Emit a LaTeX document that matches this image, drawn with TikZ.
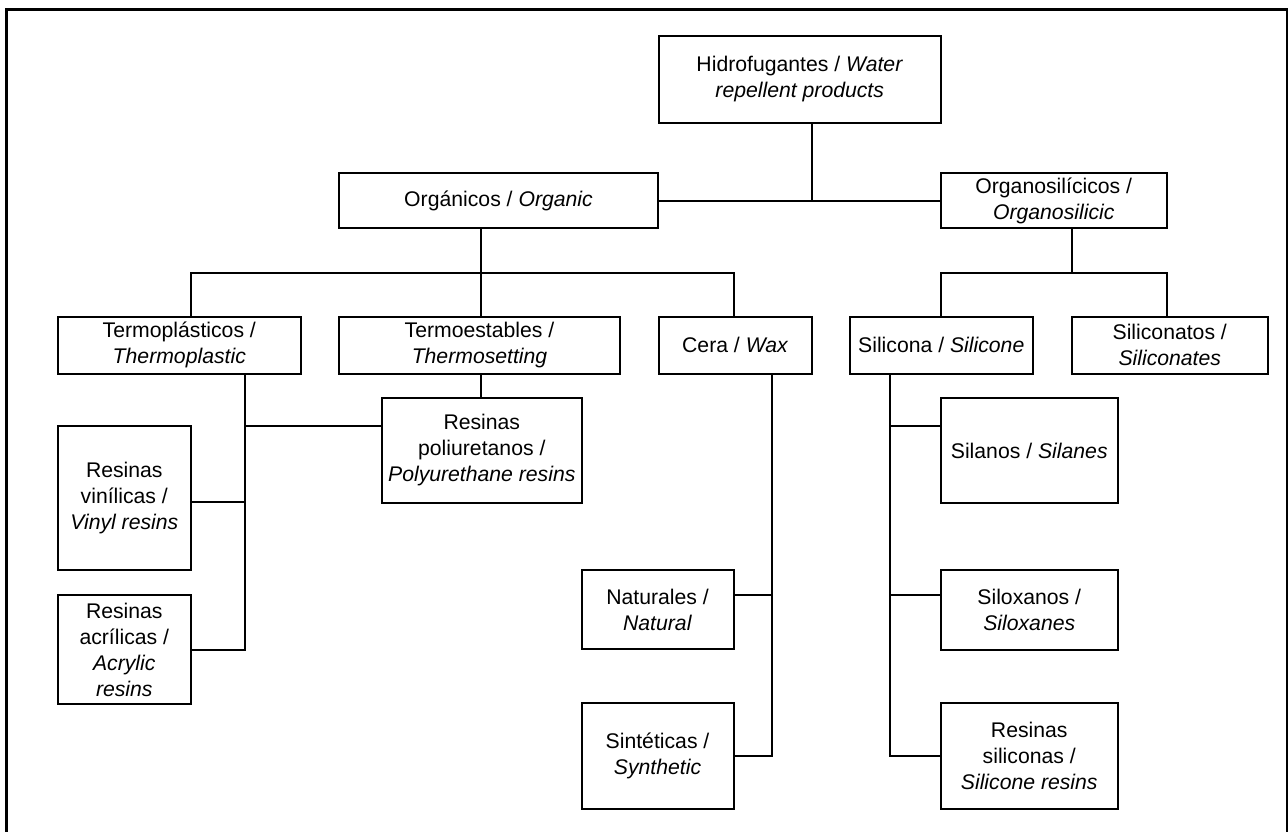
\documentclass[tikz,border=0pt]{standalone}
\usepackage{fontspec}
\setmainfont{Liberation Sans}
\begin{document}
\begin{tikzpicture}[x=1pt,y=-1pt,
  box/.style={draw=black,line width=2pt,inner sep=0pt,outer sep=0pt,align=center,
    font=\fontsize{21.2}{26}\selectfont},
  conn/.style={draw=black,line width=2pt}]
\useasboundingbox (0,0) rectangle (1288,831);
\begin{scope}
\clip (0,0) rectangle (1288,831);
\draw[line width=2.6pt] (6.5,9.5) rectangle (1287.5,860);
\end{scope}
% nodes
\node[box,minimum width=281.5pt,minimum height=87pt] (hid) at (799.75,79.5) {Hidrofugantes / \textit{Water}\\\textit{repellent products}};
\node[box,minimum width=319pt,minimum height=55pt] (org) at (498.5,200.5) {Orgánicos / \textit{Organic}};
\node[box,minimum width=226.5pt,minimum height=55pt] (osil) at (1053.75,200.5) {Organosilícicos /\\\textit{Organosilicic}};
\node[box,minimum width=242.6pt,minimum height=57.3pt] (tpl) at (179.3,345.35) {Termoplásticos /\\\textit{Thermoplastic}};
\node[box,minimum width=281pt,minimum height=57.3pt] (tes) at (479.5,345.35) {Termoestables /\\\textit{Thermosetting}};
\node[box,minimum width=152.6pt,minimum height=57.3pt] (cera) at (735.3,345.35) {Cera / \textit{Wax}};
\node[box,minimum width=182.5pt,minimum height=57.3pt] (silc) at (941.25,345.35) {Silicona / \textit{Silicone}};
\node[box,minimum width=195.5pt,minimum height=57.3pt] (silnt) at (1169.75,345.35) {Siliconatos /\\\textit{Siliconates}};
\node[box,minimum width=199.6pt,minimum height=104.4pt] (pu) at (481.8,450.5) {Resinas\\poliuretanos /\\\textit{Polyurethane resins}};
\node[box,minimum width=132.6pt,minimum height=144.3pt] (vin) at (124.3,497.85) {Resinas\\vinílicas /\\\textit{Vinyl resins}};
\node[box,minimum width=132.6pt,minimum height=109.3pt] (acr) at (124.3,649.65) {Resinas\\acrílicas /\\\textit{Acrylic}\\\textit{resins}};
\node[box,minimum width=151.9pt,minimum height=79.3pt] (nat) at (657.55,609.65) {Naturales /\\\textit{Natural}};
\node[box,minimum width=151.9pt,minimum height=105.7pt] (sin) at (657.55,756.15) {Sintéticas /\\\textit{Synthetic}};
\node[box,minimum width=177.5pt,minimum height=104.4pt] (sla) at (1029.25,450.5) {Silanos / \textit{Silanes}};
\node[box,minimum width=177.5pt,minimum height=80pt] (slx) at (1029.25,610) {Siloxanos /\\\textit{Siloxanes}};
\node[box,minimum width=177.5pt,minimum height=105.7pt] (rsi) at (1029.25,756.15) {Resinas\\siliconas /\\\textit{Silicone resins}};
% junction coordinates
\coordinate (hx) at (811.6,200.5);
\coordinate (ob) at (481,272.7);
\coordinate (b1) at (190.6,272.7);
\coordinate (b3) at (733.5,272.7);
\coordinate (sb) at (1072,272.7);
\coordinate (s1) at (940.5,272.7);
\coordinate (s2) at (1167,272.7);
\coordinate (tv) at (244.8,374);
\coordinate (cv) at (772,374);
\coordinate (sv) at (889.6,374);
% connectors
\draw[conn] (org) -- (osil);
\draw[conn] (hid.south -| hx) -- (hx);
\draw[conn] (org.south -| ob) -- (ob);
\draw[conn] (b1 |- tpl.north) -- (b1) -- (b3) -- (b3 |- cera.north);
\draw[conn] (ob) -- (ob |- tes.north);
\draw[conn] (osil.south -| sb) -- (sb);
\draw[conn] (s1 |- silc.north) -- (s1) -- (s2) -- (s2 |- silnt.north);
\draw[conn] (tv) -- (tv |- acr.east) -- (acr.east);
\draw[conn] (tv |- pu.north west) ++(0,27.4) coordinate (tp) -- (pu.west |- tp);
\draw[conn] (vin.east |- 0,502) -- (tv |- 0,502);
\draw[conn] (tes.south -| ob) -- (ob |- pu.north);
\draw[conn] (cv) -- (cv |- sin.east) -- (sin.east);
\draw[conn] (nat.east |- 0,595) -- (cv |- 0,595);
\draw[conn] (sv) -- (sv |- rsi.west) -- (rsi.west);
\draw[conn] (sv |- sla.north) ++(0,27.4) coordinate (sp) -- (sla.west |- sp);
\draw[conn] (sv |- 0,595) -- (slx.west |- 0,595);
\end{tikzpicture}
\end{document}
